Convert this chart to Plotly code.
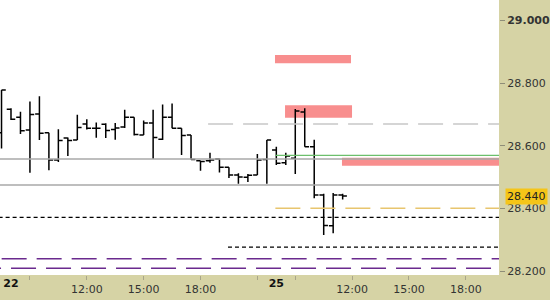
import plotly.graph_objects as go

# ---- data -------------------------------------------------------------
# half-hour bar index (0 = 22nd 08:00, 28 = 25th 08:00)
bar_idx = list(range(-1, 36))
opens = [28.642, 28.717, 28.691, 28.651, 28.702, 28.642, 28.555, 28.625, 28.619,
         28.670, 28.656, 28.669, 28.652, 28.660, 28.691, 28.635, 28.673, 28.621,
         28.691, 28.656, 28.635, 28.553, 28.553, 28.558, 28.532, 28.507, 28.500,
         28.507, 28.557, 28.587, 28.546, 28.561, 28.708, 28.597, 28.443, 28.345,
         28.443]
highs = [28.778, 28.720, 28.709, 28.742, 28.758, 28.642, 28.653, 28.627, 28.699,
         28.685, 28.675, 28.672, 28.673, 28.715, 28.691, 28.681, 28.715, 28.732,
         28.735, 28.656, 28.635, 28.553, 28.578, 28.560, 28.532, 28.513, 28.510,
         28.574, 28.619, 28.597, 28.578, 28.718, 28.720, 28.620, 28.447, 28.450,
         28.447]
lows = [28.592, 28.683, 28.638, 28.514, 28.619, 28.522, 28.549, 28.568, 28.619,
        28.652, 28.626, 28.625, 28.620, 28.657, 28.633, 28.635, 28.558, 28.619,
        28.656, 28.571, 28.557, 28.521, 28.546, 28.515, 28.498, 28.479, 28.485,
        28.507, 28.479, 28.539, 28.539, 28.510, 28.597, 28.433, 28.316, 28.321,
        28.429]
closes = [28.778, 28.685, 28.648, 28.700, 28.640, 28.555, 28.617, 28.617, 28.659,
          28.656, 28.656, 28.649, 28.657, 28.691, 28.636, 28.673, 28.627, 28.691,
          28.656, 28.633, 28.557, 28.550, 28.555, 28.532, 28.507, 28.501, 28.506,
          28.555, 28.619, 28.545, 28.568, 28.711, 28.597, 28.443, 28.346, 28.443,
          28.440]

last_price = 28.440

# horizontal levels: value, start (bar index)
level_names = ["gray_dash", "gray1", "gray2", "green", "gold", "black1", "black2", "purple1", "purple2"]
level_values = [28.670, 28.558, 28.475, 28.570, 28.401, 28.372, 28.277, 28.240, 28.210]
level_starts = [20.8, -5, -5, 27.9, 27.9, -5, 22.9, -4.68, -3.69]
level_end = 53

# red zones
zone_x0 = [27.86, 28.92, 34.93]
zone_x1 = [35.88, 35.99, 53]
zone_lo = [28.864, 28.690, 28.537]
zone_hi = [28.890, 28.730, 28.562]

# axis ticks
y_ticks = [28.2, 28.4, 28.6, 28.8, 29.0]
y_ticktext = ["28.200", "28.400", "28.600", "28.800", "<b>29.000</b>"]
x_tick_pos = [2, 8, 14, 20, 26, 30, 36, 42, 48]
x_tick_text = ["", "12:00", "15:00", "18:00", "", "", "12:00", "15:00", "18:00"]
day_pos = [0, 28]
day_text = ["<b>22</b>", "<b>25</b>"]

# ---- styles -----------------------------------------------------------
level_styles = {
    "gray_dash": dict(color="#c8c8c8", width=1.5, dash="25px,10px"),
    "gray1": dict(color="#a9a9a9", width=1.5, dash="solid"),
    "gray2": dict(color="#a9a9a9", width=1.5, dash="solid"),
    "green": dict(color="#6cbf6c", width=1.2, dash="solid"),
    "gold": dict(color="#e8c56e", width=1.5, dash="25px,10px"),
    "black1": dict(color="#000000", width=1.2, dash="4px,3px"),
    "black2": dict(color="#000000", width=1.2, dash="4px,3px"),
    "purple1": dict(color="#6a2a8e", width=1.5, dash="25px,10px"),
    "purple2": dict(color="#6a2a8e", width=1.5, dash="25px,10px"),
}

KHAKI = "#d6d3a5"
FONT = "DejaVu Sans"

fig = go.Figure()

for name, v, s in zip(level_names, level_values, level_starts):
    fig.add_trace(go.Scatter(x=[s, level_end], y=[v, v], mode="lines",
                             line=level_styles[name], hoverinfo="skip",
                             showlegend=False))

fig.add_trace(go.Ohlc(
    x=bar_idx, open=opens, high=highs, low=lows, close=closes,
    increasing=dict(line=dict(color="black", width=1.5)),
    decreasing=dict(line=dict(color="black", width=1.5)),
    tickwidth=0.45, showlegend=False,
))

# invisible trace for the day-label axis
fig.add_trace(go.Scatter(x=day_pos, y=[last_price, last_price], xaxis="x2",
                         mode="markers", marker=dict(opacity=0),
                         hoverinfo="skip", showlegend=False))

for x0, x1, lo, hi in zip(zone_x0, zone_x1, zone_lo, zone_hi):
    fig.add_shape(type="rect", xref="x", yref="y", x0=x0, x1=x1, y0=lo, y1=hi,
                  fillcolor="#f88e8e", line=dict(width=0), layer="below")

fig.add_annotation(xref="paper", yref="y", x=1, y=last_price,
                   text="28.440", showarrow=False, xanchor="left", yanchor="middle",
                   xshift=6, bgcolor="#f5c518", borderpad=1,
                   font=dict(family=FONT, size=11, color="#222"))

x_range = [-1.16, 51.5]
y_range = [28.1882, 29.0654]

fig.update_layout(
    width=550, height=300,
    margin=dict(l=0, r=51, t=0, b=25, pad=0),
    paper_bgcolor=KHAKI, plot_bgcolor="white",
    showlegend=False,
    font=dict(family=FONT, size=11, color="#333"),
    xaxis=dict(range=x_range, tickvals=x_tick_pos, ticktext=x_tick_text,
               showgrid=False, zeroline=False, ticks="outside", ticklen=4,
               tickcolor="#a8a58a", rangeslider=dict(visible=False),
               tickfont=dict(family=FONT, size=11, color="#333"), fixedrange=True),
    xaxis2=dict(range=x_range, overlaying="x", anchor="y", side="bottom",
                tickvals=day_pos, ticktext=day_text, ticks="",
                showgrid=False, zeroline=False,
                tickfont=dict(family=FONT, size=11, color="#111")),
    yaxis=dict(range=y_range, side="right", tickvals=y_ticks, ticktext=y_ticktext,
               showgrid=False, zeroline=False, ticks="outside", ticklen=5,
               tickcolor="#8f8d78",
               tickfont=dict(family=FONT, size=11, color="#333")),
)

fig.write_html("out.html")
